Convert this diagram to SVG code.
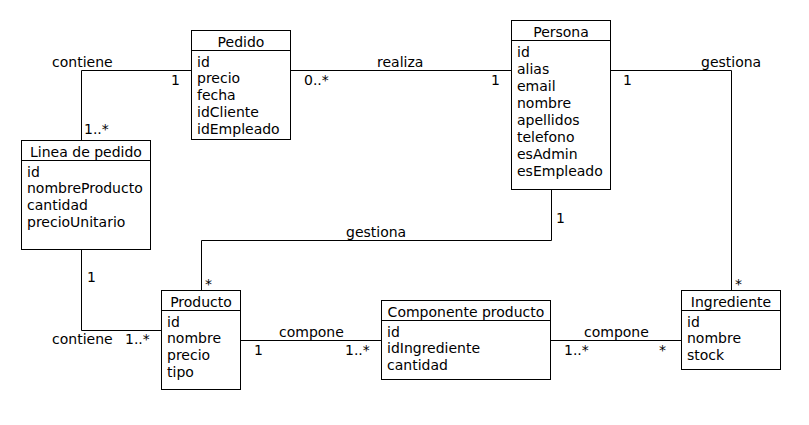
<svg xmlns="http://www.w3.org/2000/svg" width="809" height="425" viewBox="0 0 809 425">
<style>
rect,line,path{fill:none;stroke:#000;stroke-width:1}
rect{fill:#fff}
text{font-family:"DejaVu Sans",sans-serif;font-size:14px;fill:#000}
.t{text-anchor:middle}
</style>
<rect x="0" y="0" width="809" height="425" style="fill:#fff;stroke:none"/>
<g id="connectors">
<path d="M191.5 70.5H81.5V140.5"/>
<path d="M290.5 70.5H511.5"/>
<path d="M610.5 70.5H731.5V290.5"/>
<path d="M551.5 189.5V240.5H201.5V290.5"/>
<path d="M81.5 249.5V330.5H161.5"/>
<path d="M240.5 340.5H381.5"/>
<path d="M550.5 340.5H681.5"/>
<text x="52" y="66.5">contiene</text>
<text x="171" y="84.5">1</text>
<text x="84" y="133.5">1..*</text>
<text x="377" y="66.5">realiza</text>
<text x="304" y="85">0..*</text>
<text x="491" y="85">1</text>
<text x="701" y="66.5">gestiona</text>
<text x="623" y="85">1</text>
<text x="735" y="289">*</text>
<text x="346" y="236.5">gestiona</text>
<text x="556" y="222.5">1</text>
<text x="205" y="289">*</text>
<text x="87" y="281.5">1</text>
<text x="52" y="343.5">contiene</text>
<text x="125" y="343.5">1..*</text>
<text x="279" y="336.5">compone</text>
<text x="254" y="355">1</text>
<text x="345" y="355">1..*</text>
<text x="584" y="336.5">compone</text>
<text x="564" y="355">1..*</text>
<text x="659" y="355">*</text>
</g>
<g id="pedido">
<rect x="191.5" y="30.5" width="99" height="109"/>
<line x1="191.5" y1="50.5" x2="290.5" y2="50.5"/>
<text class="t" x="241" y="46.5">Pedido</text>
<text x="197" y="66.5">id</text>
<text x="197" y="83.3">precio</text>
<text x="197" y="100.1">fecha</text>
<text x="197" y="116.9">idCliente</text>
<text x="197" y="133.7">idEmpleado</text>
</g>
<g id="linea">
<rect x="21.5" y="140.5" width="129" height="109"/>
<line x1="21.5" y1="160.5" x2="150.5" y2="160.5"/>
<text class="t" x="86" y="156.5">Linea de pedido</text>
<text x="27" y="176.7">id</text>
<text x="27" y="193.4">nombreProducto</text>
<text x="27" y="210.1">cantidad</text>
<text x="27" y="226.8">precioUnitario</text>
</g>
<g id="persona">
<rect x="511.5" y="20.5" width="99" height="169"/>
<line x1="511.5" y1="40.5" x2="610.5" y2="40.5"/>
<text class="t" x="561" y="36.5">Persona</text>
<text x="517" y="56.7">id</text>
<text x="517" y="73.7">alias</text>
<text x="517" y="90.7">email</text>
<text x="517" y="107.7">nombre</text>
<text x="517" y="124.7">apellidos</text>
<text x="517" y="141.7">telefono</text>
<text x="517" y="158.7">esAdmin</text>
<text x="517" y="175.7">esEmpleado</text>
</g>
<g id="producto">
<rect x="161.5" y="290.5" width="79" height="99"/>
<line x1="161.5" y1="310.5" x2="240.5" y2="310.5"/>
<text class="t" x="201" y="307">Producto</text>
<text x="167" y="326.7">id</text>
<text x="167" y="343.4">nombre</text>
<text x="167" y="360.1">precio</text>
<text x="167" y="376.8">tipo</text>
</g>
<g id="componente">
<rect x="381.5" y="300.5" width="169" height="79"/>
<line x1="381.5" y1="320.5" x2="550.5" y2="320.5"/>
<text class="t" x="466" y="317">Componente producto</text>
<text x="387" y="336.7">id</text>
<text x="387" y="353.4">idIngrediente</text>
<text x="387" y="370.1">cantidad</text>
</g>
<g id="ingrediente">
<rect x="681.5" y="290.5" width="99" height="79"/>
<line x1="681.5" y1="310.5" x2="780.5" y2="310.5"/>
<text class="t" x="731" y="307">Ingrediente</text>
<text x="687" y="326.7">id</text>
<text x="687" y="343.4">nombre</text>
<text x="687" y="360.1">stock</text>
</g>
</svg>
